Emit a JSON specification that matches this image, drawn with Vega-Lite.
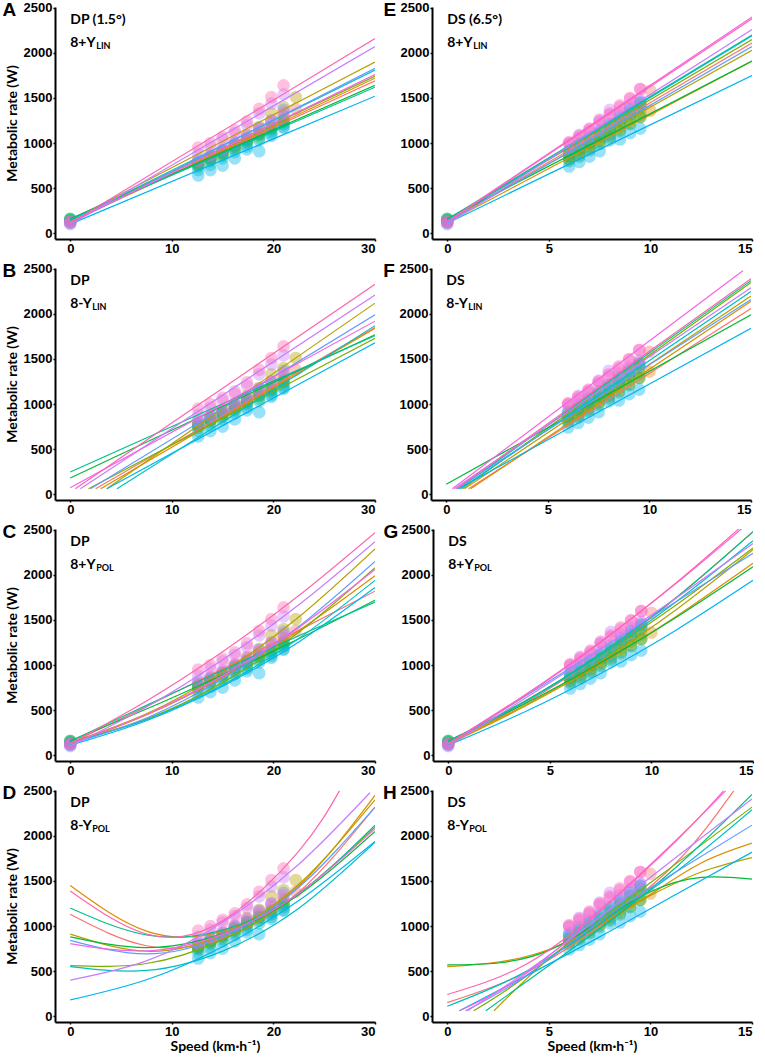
{
"$schema":"https://vega.github.io/schema/vega-lite/v6.json",
"background":"white",
"padding":{"left":2,"top":0,"right":0,"bottom":0},
"config":{"view":{"stroke":null},"axis":{"grid":false,"format":"d","labelFont":"Liberation Sans","labelFontSize":13,"labelFontWeight":"bold","labelColor":"black","domainColor":"black","domainWidth":2,"tickColor":"black","tickWidth":1.5,"tickSize":2,"labelPadding":1,"titleFont":"Lato","titleFontSize":14,"titleFontWeight":"bold","titleColor":"black","titlePadding":4},"axisX":{"labelPadding":1,"titlePadding":1}},
"datasets":{
"dp":[
{"s":"s1","x":0,"y":130},{"s":"s1","x":12.6,"y":760},{"s":"s1","x":13.8,"y":830},{"s":"s1","x":15,"y":900},{"s":"s1","x":16.2,"y":970},{"s":"s1","x":17.4,"y":1050},{"s":"s1","x":18.6,"y":1130},{"s":"s1","x":19.8,"y":1220},{"s":"s1","x":21,"y":1300},{"s":"s1","x":22.2,"y":1380},
{"s":"s2","x":0,"y":120},{"s":"s2","x":12.6,"y":760},{"s":"s2","x":13.8,"y":820},{"s":"s2","x":15,"y":880},{"s":"s2","x":16.2,"y":950},{"s":"s2","x":17.4,"y":1020},{"s":"s2","x":18.6,"y":1100},{"s":"s2","x":19.8,"y":1180},{"s":"s2","x":21,"y":1270},
{"s":"s3","x":0,"y":140},{"s":"s3","x":12.6,"y":780},{"s":"s3","x":13.8,"y":850},{"s":"s3","x":15,"y":920},{"s":"s3","x":16.2,"y":1000},{"s":"s3","x":17.4,"y":1090},{"s":"s3","x":18.6,"y":1180},{"s":"s3","x":19.8,"y":1330},{"s":"s3","x":21,"y":1400},{"s":"s3","x":22.2,"y":1510},
{"s":"s4","x":0,"y":150},{"s":"s4","x":12.6,"y":760},{"s":"s4","x":13.8,"y":820},{"s":"s4","x":15,"y":890},{"s":"s4","x":16.2,"y":960},{"s":"s4","x":17.4,"y":1030},{"s":"s4","x":18.6,"y":1090},{"s":"s4","x":19.8,"y":1160},{"s":"s4","x":21,"y":1240},
{"s":"s5","x":0,"y":160},{"s":"s5","x":12.6,"y":740},{"s":"s5","x":13.8,"y":800},{"s":"s5","x":15,"y":860},{"s":"s5","x":16.2,"y":930},{"s":"s5","x":17.4,"y":1000},{"s":"s5","x":18.6,"y":1060},{"s":"s5","x":19.8,"y":1130},{"s":"s5","x":21,"y":1210},
{"s":"s6","x":0,"y":155},{"s":"s6","x":12.6,"y":780},{"s":"s6","x":13.8,"y":840},{"s":"s6","x":15,"y":900},{"s":"s6","x":16.2,"y":980},{"s":"s6","x":17.4,"y":1040},{"s":"s6","x":18.6,"y":1100},{"s":"s6","x":19.8,"y":1160},{"s":"s6","x":21,"y":1250},
{"s":"s7","x":0,"y":140},{"s":"s7","x":12.6,"y":700},{"s":"s7","x":13.8,"y":760},{"s":"s7","x":15,"y":830},{"s":"s7","x":16.2,"y":900},{"s":"s7","x":17.4,"y":960},{"s":"s7","x":18.6,"y":1030},{"s":"s7","x":19.8,"y":1100},{"s":"s7","x":21,"y":1180},
{"s":"s8","x":0,"y":110},{"s":"s8","x":12.6,"y":640},{"s":"s8","x":13.8,"y":700},{"s":"s8","x":15,"y":750},{"s":"s8","x":16.2,"y":830},{"s":"s8","x":17.4,"y":930},{"s":"s8","x":18.6,"y":910},{"s":"s8","x":19.8,"y":1080},{"s":"s8","x":21,"y":1170},
{"s":"s9","x":0,"y":120},{"s":"s9","x":12.6,"y":820},{"s":"s9","x":13.8,"y":860},{"s":"s9","x":15,"y":920},{"s":"s9","x":16.2,"y":990},{"s":"s9","x":17.4,"y":1060},{"s":"s9","x":18.6,"y":1170},{"s":"s9","x":19.8,"y":1250},{"s":"s9","x":21,"y":1370},
{"s":"s10","x":0,"y":100},{"s":"s10","x":12.6,"y":880},{"s":"s10","x":13.8,"y":960},{"s":"s10","x":15,"y":1040},{"s":"s10","x":16.2,"y":1110},{"s":"s10","x":17.4,"y":1200},{"s":"s10","x":18.6,"y":1330},{"s":"s10","x":19.8,"y":1440},{"s":"s10","x":21,"y":1540},
{"s":"s11","x":0,"y":130},{"s":"s11","x":12.6,"y":800},{"s":"s11","x":13.8,"y":870},{"s":"s11","x":15,"y":940},{"s":"s11","x":16.2,"y":1010},{"s":"s11","x":17.4,"y":1080},{"s":"s11","x":18.6,"y":1160},{"s":"s11","x":19.8,"y":1250},{"s":"s11","x":21,"y":1340},
{"s":"s12","x":0,"y":125},{"s":"s12","x":12.6,"y":950},{"s":"s12","x":13.8,"y":1000},{"s":"s12","x":15,"y":1070},{"s":"s12","x":16.2,"y":1140},{"s":"s12","x":17.4,"y":1240},{"s":"s12","x":18.6,"y":1380},{"s":"s12","x":19.8,"y":1510},{"s":"s12","x":21,"y":1640}
],
"ds":[
{"s":"s1","x":0,"y":130},{"s":"s1","x":6,"y":860},{"s":"s1","x":6.5,"y":920},{"s":"s1","x":7,"y":990},{"s":"s1","x":7.5,"y":1070},{"s":"s1","x":8,"y":1150},{"s":"s1","x":8.5,"y":1240},{"s":"s1","x":9,"y":1330},{"s":"s1","x":9.5,"y":1440},{"s":"s1","x":10,"y":1580},
{"s":"s2","x":0,"y":120},{"s":"s2","x":6,"y":820},{"s":"s2","x":6.5,"y":870},{"s":"s2","x":7,"y":940},{"s":"s2","x":7.5,"y":1010},{"s":"s2","x":8,"y":1080},{"s":"s2","x":8.5,"y":1150},{"s":"s2","x":9,"y":1220},{"s":"s2","x":9.5,"y":1290},{"s":"s2","x":10,"y":1360},
{"s":"s3","x":0,"y":140},{"s":"s3","x":6,"y":830},{"s":"s3","x":6.5,"y":890},{"s":"s3","x":7,"y":960},{"s":"s3","x":7.5,"y":1030},{"s":"s3","x":8,"y":1100},{"s":"s3","x":8.5,"y":1180},{"s":"s3","x":9,"y":1260},{"s":"s3","x":9.5,"y":1340},
{"s":"s4","x":0,"y":150},{"s":"s4","x":6,"y":860},{"s":"s4","x":6.5,"y":930},{"s":"s4","x":7,"y":1000},{"s":"s4","x":7.5,"y":1080},{"s":"s4","x":8,"y":1160},{"s":"s4","x":8.5,"y":1240},{"s":"s4","x":9,"y":1320},{"s":"s4","x":9.5,"y":1400},
{"s":"s5","x":0,"y":160},{"s":"s5","x":6,"y":800},{"s":"s5","x":6.5,"y":850},{"s":"s5","x":7,"y":920},{"s":"s5","x":7.5,"y":990},{"s":"s5","x":8,"y":1060},{"s":"s5","x":8.5,"y":1130},{"s":"s5","x":9,"y":1210},{"s":"s5","x":9.5,"y":1290},
{"s":"s6","x":0,"y":155},{"s":"s6","x":6,"y":900},{"s":"s6","x":6.5,"y":960},{"s":"s6","x":7,"y":1040},{"s":"s6","x":7.5,"y":1120},{"s":"s6","x":8,"y":1200},{"s":"s6","x":8.5,"y":1280},{"s":"s6","x":9,"y":1370},{"s":"s6","x":9.5,"y":1450},
{"s":"s7","x":0,"y":140},{"s":"s7","x":6,"y":880},{"s":"s7","x":6.5,"y":950},{"s":"s7","x":7,"y":1020},{"s":"s7","x":7.5,"y":1100},{"s":"s7","x":8,"y":1180},{"s":"s7","x":8.5,"y":1260},{"s":"s7","x":9,"y":1340},{"s":"s7","x":9.5,"y":1420},
{"s":"s8","x":0,"y":110},{"s":"s8","x":6,"y":740},{"s":"s8","x":6.5,"y":790},{"s":"s8","x":7,"y":850},{"s":"s8","x":7.5,"y":910},{"s":"s8","x":8,"y":1030},{"s":"s8","x":8.5,"y":1040},{"s":"s8","x":9,"y":1110},{"s":"s8","x":9.5,"y":1160},
{"s":"s9","x":0,"y":120},{"s":"s9","x":6,"y":920},{"s":"s9","x":6.5,"y":990},{"s":"s9","x":7,"y":1060},{"s":"s9","x":7.5,"y":1140},{"s":"s9","x":8,"y":1220},{"s":"s9","x":8.5,"y":1300},{"s":"s9","x":9,"y":1380},{"s":"s9","x":9.5,"y":1460},
{"s":"s10","x":0,"y":100},{"s":"s10","x":6,"y":990},{"s":"s10","x":6.5,"y":1090},{"s":"s10","x":7,"y":1130},{"s":"s10","x":7.5,"y":1260},{"s":"s10","x":8,"y":1370},{"s":"s10","x":8.5,"y":1340},{"s":"s10","x":9,"y":1410},{"s":"s10","x":9.5,"y":1480},
{"s":"s11","x":0,"y":130},{"s":"s11","x":6,"y":1000},{"s":"s11","x":6.5,"y":1060},{"s":"s11","x":7,"y":1150},{"s":"s11","x":7.5,"y":1230},{"s":"s11","x":8,"y":1310},{"s":"s11","x":8.5,"y":1400},{"s":"s11","x":9,"y":1490},{"s":"s11","x":9.5,"y":1600},
{"s":"s12","x":0,"y":125},{"s":"s12","x":6,"y":1010},{"s":"s12","x":6.5,"y":1080},{"s":"s12","x":7,"y":1160},{"s":"s12","x":7.5,"y":1250},{"s":"s12","x":8,"y":1330},{"s":"s12","x":8.5,"y":1420},{"s":"s12","x":9,"y":1500},{"s":"s12","x":9.5,"y":1600}
],
"lines":[
{"p":"A","s":"s1","x":0,"y":130},{"p":"A","s":"s1","x":30,"y":1690},
{"p":"A","s":"s2","x":0,"y":120},{"p":"A","s":"s2","x":30,"y":1720},
{"p":"A","s":"s3","x":0,"y":140},{"p":"A","s":"s3","x":30,"y":1900},
{"p":"A","s":"s4","x":0,"y":150},{"p":"A","s":"s4","x":30,"y":1740},
{"p":"A","s":"s5","x":0,"y":160},{"p":"A","s":"s5","x":30,"y":1640},
{"p":"A","s":"s6","x":0,"y":155},{"p":"A","s":"s6","x":30,"y":1620},
{"p":"A","s":"s7","x":0,"y":140},{"p":"A","s":"s7","x":30,"y":1810},
{"p":"A","s":"s8","x":0,"y":100},{"p":"A","s":"s8","x":30,"y":1520},
{"p":"A","s":"s9","x":0,"y":110},{"p":"A","s":"s9","x":30,"y":1830},
{"p":"A","s":"s10","x":0,"y":95},{"p":"A","s":"s10","x":30,"y":2070},
{"p":"A","s":"s11","x":0,"y":120},{"p":"A","s":"s11","x":30,"y":1760},
{"p":"A","s":"s12","x":0,"y":110},{"p":"A","s":"s12","x":30,"y":2160},
{"p":"B","s":"s1","x":2.5,"y":60},{"p":"B","s":"s1","x":30,"y":1850},
{"p":"B","s":"s2","x":3.0,"y":60},{"p":"B","s":"s2","x":30,"y":1840},
{"p":"B","s":"s3","x":3.6,"y":60},{"p":"B","s":"s3","x":30,"y":2120},
{"p":"B","s":"s4","x":1.8,"y":60},{"p":"B","s":"s4","x":30,"y":1730},
{"p":"B","s":"s5","x":0,"y":180},{"p":"B","s":"s5","x":30,"y":1770},
{"p":"B","s":"s6","x":0,"y":245},{"p":"B","s":"s6","x":30,"y":1760},
{"p":"B","s":"s7","x":4.6,"y":60},{"p":"B","s":"s7","x":30,"y":1870},
{"p":"B","s":"s8","x":3.6,"y":60},{"p":"B","s":"s8","x":30,"y":1680},
{"p":"B","s":"s9","x":2.0,"y":60},{"p":"B","s":"s9","x":30,"y":1990},
{"p":"B","s":"s10","x":1.0,"y":60},{"p":"B","s":"s10","x":30,"y":2210},
{"p":"B","s":"s11","x":0,"y":70},{"p":"B","s":"s11","x":30,"y":1920},
{"p":"B","s":"s12","x":0.5,"y":60},{"p":"B","s":"s12","x":30,"y":2330},
{"p":"C","s":"s1","x":0,"y":130},{"p":"C","s":"s1","x":7.5,"y":541},{"p":"C","s":"s1","x":15,"y":959},{"p":"C","s":"s1","x":22.5,"y":1385},{"p":"C","s":"s1","x":30,"y":1820},
{"p":"C","s":"s2","x":0,"y":120},{"p":"C","s":"s2","x":7.5,"y":445},{"p":"C","s":"s2","x":15,"y":865},{"p":"C","s":"s2","x":22.5,"y":1381},{"p":"C","s":"s2","x":30,"y":1990},
{"p":"C","s":"s3","x":0,"y":140},{"p":"C","s":"s3","x":7.5,"y":459},{"p":"C","s":"s3","x":15,"y":924},{"p":"C","s":"s3","x":22.5,"y":1534},{"p":"C","s":"s3","x":30,"y":2290},
{"p":"C","s":"s4","x":0,"y":150},{"p":"C","s":"s4","x":7.5,"y":400},{"p":"C","s":"s4","x":15,"y":805},{"p":"C","s":"s4","x":22.5,"y":1364},{"p":"C","s":"s4","x":30,"y":2080},
{"p":"C","s":"s5","x":0,"y":160},{"p":"C","s":"s5","x":7.5,"y":512},{"p":"C","s":"s5","x":15,"y":890},{"p":"C","s":"s5","x":22.5,"y":1291},{"p":"C","s":"s5","x":30,"y":1720},
{"p":"C","s":"s6","x":0,"y":155},{"p":"C","s":"s6","x":7.5,"y":553},{"p":"C","s":"s6","x":15,"y":943},{"p":"C","s":"s6","x":22.5,"y":1326},{"p":"C","s":"s6","x":30,"y":1700},
{"p":"C","s":"s7","x":0,"y":140},{"p":"C","s":"s7","x":7.5,"y":393},{"p":"C","s":"s7","x":15,"y":778},{"p":"C","s":"s7","x":22.5,"y":1294},{"p":"C","s":"s7","x":30,"y":1940},
{"p":"C","s":"s8","x":0,"y":110},{"p":"C","s":"s8","x":7.5,"y":382},{"p":"C","s":"s8","x":15,"y":765},{"p":"C","s":"s8","x":22.5,"y":1257},{"p":"C","s":"s8","x":30,"y":1860},
{"p":"C","s":"s9","x":0,"y":120},{"p":"C","s":"s9","x":7.5,"y":412},{"p":"C","s":"s9","x":15,"y":848},{"p":"C","s":"s9","x":22.5,"y":1427},{"p":"C","s":"s9","x":30,"y":2150},
{"p":"C","s":"s10","x":0,"y":100},{"p":"C","s":"s10","x":7.5,"y":534},{"p":"C","s":"s10","x":15,"y":1058},{"p":"C","s":"s10","x":22.5,"y":1669},{"p":"C","s":"s10","x":30,"y":2370},
{"p":"C","s":"s11","x":0,"y":130},{"p":"C","s":"s11","x":7.5,"y":451},{"p":"C","s":"s11","x":15,"y":880},{"p":"C","s":"s11","x":22.5,"y":1417},{"p":"C","s":"s11","x":30,"y":2060},
{"p":"C","s":"s12","x":0,"y":130},{"p":"C","s":"s12","x":7.5,"y":601},{"p":"C","s":"s12","x":15,"y":1148},{"p":"C","s":"s12","x":22.5,"y":1771},{"p":"C","s":"s12","x":30,"y":2470},
{"p":"D","s":"s1","x":0,"y":1130},{"p":"D","s":"s1","x":7.5,"y":781},{"p":"D","s":"s1","x":15,"y":862},{"p":"D","s":"s1","x":22.5,"y":1375},{"p":"D","s":"s1","x":30,"y":2320},
{"p":"D","s":"s2","x":0,"y":1450},{"p":"D","s":"s2","x":7.5,"y":944},{"p":"D","s":"s2","x":15,"y":942},{"p":"D","s":"s2","x":22.5,"y":1444},{"p":"D","s":"s2","x":30,"y":2450},
{"p":"D","s":"s3","x":0,"y":910},{"p":"D","s":"s3","x":7.5,"y":720},{"p":"D","s":"s3","x":15,"y":905},{"p":"D","s":"s3","x":22.5,"y":1464},{"p":"D","s":"s3","x":30,"y":2400},
{"p":"D","s":"s4","x":0,"y":560},{"p":"D","s":"s4","x":7.5,"y":584},{"p":"D","s":"s4","x":15,"y":849},{"p":"D","s":"s4","x":22.5,"y":1355},{"p":"D","s":"s4","x":30,"y":2100},
{"p":"D","s":"s5","x":0,"y":880},{"p":"D","s":"s5","x":7.5,"y":761},{"p":"D","s":"s5","x":15,"y":916},{"p":"D","s":"s5","x":22.5,"y":1346},{"p":"D","s":"s5","x":30,"y":2050},
{"p":"D","s":"s6","x":0,"y":1200},{"p":"D","s":"s6","x":7.5,"y":901},{"p":"D","s":"s6","x":15,"y":955},{"p":"D","s":"s6","x":22.5,"y":1363},{"p":"D","s":"s6","x":30,"y":2120},
{"p":"D","s":"s7","x":0,"y":550},{"p":"D","s":"s7","x":7.5,"y":507},{"p":"D","s":"s7","x":15,"y":722},{"p":"D","s":"s7","x":22.5,"y":1197},{"p":"D","s":"s7","x":30,"y":1930},
{"p":"D","s":"s8","x":0,"y":180},{"p":"D","s":"s8","x":7.5,"y":404},{"p":"D","s":"s8","x":15,"y":771},{"p":"D","s":"s8","x":22.5,"y":1283},{"p":"D","s":"s8","x":30,"y":1940},
{"p":"D","s":"s9","x":0,"y":841},{"p":"D","s":"s9","x":7.5,"y":691},{"p":"D","s":"s9","x":15,"y":887},{"p":"D","s":"s9","x":22.5,"y":1430},{"p":"D","s":"s9","x":30,"y":2320},
{"p":"D","s":"s10","x":0,"y":400},{"p":"D","s":"s10","x":7.5,"y":613},{"p":"D","s":"s10","x":15,"y":1042},{"p":"D","s":"s10","x":22.5,"y":1686},{"p":"D","s":"s10","x":29.5,"y":2480},
{"p":"D","s":"s11","x":0,"y":805},{"p":"D","s":"s11","x":7.5,"y":725},{"p":"D","s":"s11","x":15,"y":911},{"p":"D","s":"s11","x":22.5,"y":1362},{"p":"D","s":"s11","x":30,"y":2080},
{"p":"D","s":"s12","x":0,"y":1390},{"p":"D","s":"s12","x":7.5,"y":912},{"p":"D","s":"s12","x":15,"y":1059},{"p":"D","s":"s12","x":22.5,"y":1832},{"p":"D","s":"s12","x":26.5,"y":2500},
{"p":"E","s":"s1","x":0,"y":130},{"p":"E","s":"s1","x":15,"y":2110},
{"p":"E","s":"s2","x":0,"y":120},{"p":"E","s":"s2","x":15,"y":1910},
{"p":"E","s":"s3","x":0,"y":140},{"p":"E","s":"s3","x":15,"y":2030},
{"p":"E","s":"s4","x":0,"y":150},{"p":"E","s":"s4","x":15,"y":2150},
{"p":"E","s":"s5","x":0,"y":160},{"p":"E","s":"s5","x":15,"y":1910},
{"p":"E","s":"s6","x":0,"y":155},{"p":"E","s":"s6","x":15,"y":2200},
{"p":"E","s":"s7","x":0,"y":140},{"p":"E","s":"s7","x":15,"y":2190},
{"p":"E","s":"s8","x":0,"y":110},{"p":"E","s":"s8","x":15,"y":1750},
{"p":"E","s":"s9","x":0,"y":120},{"p":"E","s":"s9","x":15,"y":2070},
{"p":"E","s":"s10","x":0,"y":100},{"p":"E","s":"s10","x":15,"y":2260},
{"p":"E","s":"s11","x":0,"y":130},{"p":"E","s":"s11","x":15,"y":2400},
{"p":"E","s":"s12","x":0,"y":125},{"p":"E","s":"s12","x":15,"y":2380},
{"p":"F","s":"s1","x":1.1,"y":60},{"p":"F","s":"s1","x":15,"y":2060},
{"p":"F","s":"s2","x":1.2,"y":60},{"p":"F","s":"s2","x":15,"y":2140},
{"p":"F","s":"s3","x":0.9,"y":60},{"p":"F","s":"s3","x":15,"y":2200},
{"p":"F","s":"s4","x":0.8,"y":60},{"p":"F","s":"s4","x":15,"y":2350},
{"p":"F","s":"s5","x":0,"y":110},{"p":"F","s":"s5","x":15,"y":1990},
{"p":"F","s":"s6","x":0.6,"y":60},{"p":"F","s":"s6","x":15,"y":2370},
{"p":"F","s":"s7","x":0.7,"y":60},{"p":"F","s":"s7","x":15,"y":2250},
{"p":"F","s":"s8","x":0.6,"y":60},{"p":"F","s":"s8","x":15,"y":1840},
{"p":"F","s":"s9","x":0.5,"y":60},{"p":"F","s":"s9","x":15,"y":2160},
{"p":"F","s":"s10","x":0.4,"y":60},{"p":"F","s":"s10","x":15,"y":2290},
{"p":"F","s":"s11","x":0.3,"y":60},{"p":"F","s":"s11","x":14.6,"y":2480},
{"p":"F","s":"s12","x":0.5,"y":60},{"p":"F","s":"s12","x":15,"y":2390},
{"p":"G","s":"s1","x":0,"y":130},{"p":"G","s":"s1","x":3.75,"y":573},{"p":"G","s":"s1","x":7.5,"y":1112},{"p":"G","s":"s1","x":11.25,"y":1749},{"p":"G","s":"s1","x":15,"y":2480},
{"p":"G","s":"s2","x":0,"y":120},{"p":"G","s":"s2","x":3.75,"y":539},{"p":"G","s":"s2","x":7.5,"y":1014},{"p":"G","s":"s2","x":11.25,"y":1545},{"p":"G","s":"s2","x":15,"y":2130},
{"p":"G","s":"s3","x":0,"y":140},{"p":"G","s":"s3","x":3.75,"y":550},{"p":"G","s":"s3","x":7.5,"y":1043},{"p":"G","s":"s3","x":11.25,"y":1620},{"p":"G","s":"s3","x":15,"y":2280},
{"p":"G","s":"s4","x":0,"y":150},{"p":"G","s":"s4","x":3.75,"y":598},{"p":"G","s":"s4","x":7.5,"y":1105},{"p":"G","s":"s4","x":11.25,"y":1673},{"p":"G","s":"s4","x":15,"y":2300},
{"p":"G","s":"s5","x":0,"y":160},{"p":"G","s":"s5","x":3.75,"y":568},{"p":"G","s":"s5","x":7.5,"y":1026},{"p":"G","s":"s5","x":11.25,"y":1533},{"p":"G","s":"s5","x":15,"y":2090},
{"p":"G","s":"s6","x":0,"y":155},{"p":"G","s":"s6","x":3.75,"y":593},{"p":"G","s":"s6","x":7.5,"y":1127},{"p":"G","s":"s6","x":11.25,"y":1755},{"p":"G","s":"s6","x":15,"y":2480},
{"p":"G","s":"s7","x":0,"y":140},{"p":"G","s":"s7","x":3.75,"y":588},{"p":"G","s":"s7","x":7.5,"y":1111},{"p":"G","s":"s7","x":11.25,"y":1709},{"p":"G","s":"s7","x":15,"y":2380},
{"p":"G","s":"s8","x":0,"y":110},{"p":"G","s":"s8","x":3.75,"y":479},{"p":"G","s":"s8","x":7.5,"y":907},{"p":"G","s":"s8","x":11.25,"y":1393},{"p":"G","s":"s8","x":15,"y":1940},
{"p":"G","s":"s9","x":0,"y":120},{"p":"G","s":"s9","x":3.75,"y":648},{"p":"G","s":"s9","x":7.5,"y":1178},{"p":"G","s":"s9","x":11.25,"y":1708},{"p":"G","s":"s9","x":15,"y":2240},
{"p":"G","s":"s10","x":0,"y":100},{"p":"G","s":"s10","x":3.75,"y":626},{"p":"G","s":"s10","x":7.5,"y":1176},{"p":"G","s":"s10","x":11.25,"y":1750},{"p":"G","s":"s10","x":15,"y":2350},
{"p":"G","s":"s11","x":0,"y":130},{"p":"G","s":"s11","x":3.75,"y":666},{"p":"G","s":"s11","x":7.5,"y":1260},{"p":"G","s":"s11","x":11.25,"y":1912},{"p":"G","s":"s11","x":15,"y":2620},
{"p":"G","s":"s12","x":0,"y":125},{"p":"G","s":"s12","x":3.75,"y":656},{"p":"G","s":"s12","x":7.5,"y":1254},{"p":"G","s":"s12","x":11.25,"y":1919},{"p":"G","s":"s12","x":15,"y":2650},
{"p":"H","s":"s1","x":0,"y":150},{"p":"H","s":"s1","x":3.75,"y":470},{"p":"H","s":"s1","x":7.5,"y":1000},{"p":"H","s":"s1","x":11.25,"y":1700},{"p":"H","s":"s1","x":14.1,"y":2500},
{"p":"H","s":"s2","x":0,"y":550},{"p":"H","s":"s2","x":2.5,"y":600},{"p":"H","s":"s2","x":5,"y":740},{"p":"H","s":"s2","x":7.5,"y":1010},{"p":"H","s":"s2","x":10,"y":1350},{"p":"H","s":"s2","x":12.5,"y":1700},{"p":"H","s":"s2","x":15,"y":1920},
{"p":"H","s":"s3","x":2.3,"y":60},{"p":"H","s":"s3","x":5,"y":640},{"p":"H","s":"s3","x":7.5,"y":1040},{"p":"H","s":"s3","x":10,"y":1340},{"p":"H","s":"s3","x":12.5,"y":1600},{"p":"H","s":"s3","x":15,"y":1760},
{"p":"H","s":"s4","x":1.3,"y":60},{"p":"H","s":"s4","x":3.75,"y":420},{"p":"H","s":"s4","x":7.5,"y":1060},{"p":"H","s":"s4","x":11.25,"y":1690},{"p":"H","s":"s4","x":15,"y":2320},
{"p":"H","s":"s5","x":0,"y":570},{"p":"H","s":"s5","x":2.5,"y":590},{"p":"H","s":"s5","x":5,"y":730},{"p":"H","s":"s5","x":7.5,"y":1050},{"p":"H","s":"s5","x":10,"y":1380},{"p":"H","s":"s5","x":12.5,"y":1540},{"p":"H","s":"s5","x":15,"y":1520},
{"p":"H","s":"s6","x":1.9,"y":60},{"p":"H","s":"s6","x":3.75,"y":360},{"p":"H","s":"s6","x":7.5,"y":970},{"p":"H","s":"s6","x":11.25,"y":1650},{"p":"H","s":"s6","x":15,"y":2460},
{"p":"H","s":"s7","x":0,"y":110},{"p":"H","s":"s7","x":3.75,"y":480},{"p":"H","s":"s7","x":7.5,"y":1020},{"p":"H","s":"s7","x":11.25,"y":1600},{"p":"H","s":"s7","x":15,"y":2290},
{"p":"H","s":"s8","x":0.6,"y":60},{"p":"H","s":"s8","x":3.75,"y":430},{"p":"H","s":"s8","x":7.5,"y":880},{"p":"H","s":"s8","x":11.25,"y":1350},{"p":"H","s":"s8","x":15,"y":1820},
{"p":"H","s":"s9","x":0.9,"y":60},{"p":"H","s":"s9","x":3.75,"y":430},{"p":"H","s":"s9","x":7.5,"y":1050},{"p":"H","s":"s9","x":11.25,"y":1600},{"p":"H","s":"s9","x":15,"y":2120},
{"p":"H","s":"s10","x":1.0,"y":60},{"p":"H","s":"s10","x":3.75,"y":470},{"p":"H","s":"s10","x":7.5,"y":1100},{"p":"H","s":"s10","x":11.25,"y":1760},{"p":"H","s":"s10","x":15,"y":2410},
{"p":"H","s":"s11","x":0.6,"y":60},{"p":"H","s":"s11","x":3.75,"y":450},{"p":"H","s":"s11","x":7.5,"y":1160},{"p":"H","s":"s11","x":11.25,"y":1950},{"p":"H","s":"s11","x":13.7,"y":2500},
{"p":"H","s":"s12","x":0,"y":240},{"p":"H","s":"s12","x":3.75,"y":560},{"p":"H","s":"s12","x":7.5,"y":1170},{"p":"H","s":"s12","x":11.25,"y":1940},{"p":"H","s":"s12","x":13.6,"y":2500}
]
},
"spacing":6,
"vconcat":[
{"spacing":7,"hconcat":[
{"width":320,"height":232,
"encoding":{"x":{"field":"x","type":"quantitative","scale":{"domain":[-1.5,30],"nice":false,"zero":false},"axis":{"values":[0,10,20,30],"title":null}},"y":{"field":"y","type":"quantitative","scale":{"domain":[-65,2510],"nice":false,"zero":false},"axis":{"values":[0,500,1000,1500,2000,2500],"title":"Metabolic rate (W)"}}},
"layer":[
{"data":{"name":"dp"},"mark":{"type":"circle","size":160,"opacity":0.4,"clip":true},"encoding":{"color":{"field":"s","type":"nominal","scale":{"domain":["s1","s2","s3","s4","s5","s6","s7","s8","s9","s10","s11","s12"],"range":["#F8766D","#DE8C00","#B79F00","#7CAE00","#00BA38","#00C08B","#00BFC4","#00B4F0","#619CFF","#C77CFF","#F564E3","#FF64B0"]},"legend":null}}},
{"data":{"name":"lines"},"transform":[{"filter":"datum.p==='A'"}],"mark":{"type":"line","strokeWidth":1.2,"clip":true},"encoding":{"color":{"field":"s","type":"nominal","scale":{"domain":["s1","s2","s3","s4","s5","s6","s7","s8","s9","s10","s11","s12"],"range":["#F8766D","#DE8C00","#B79F00","#7CAE00","#00BA38","#00C08B","#00BFC4","#00B4F0","#619CFF","#C77CFF","#F564E3","#FF64B0"]},"legend":null}}},
{"data":{"values":[{"x":0,"y":2370,"t":"DP (1.5°)"},{"x":0,"y":2110,"t":"8+Y"}]},"mark":{"type":"text","align":"left","baseline":"middle","font":"Lato","fontSize":14,"fontWeight":"bold","color":"black"},"encoding":{"text":{"field":"t"}}},
{"data":{"values":[{"x":0,"y":2075,"t":"LIN"}]},"mark":{"type":"text","align":"left","baseline":"middle","font":"Lato","fontSize":9,"fontWeight":"bold","color":"black","dx":26},"encoding":{"text":{"field":"t"}}},
{"data":{"values":[{"x":-6,"y":2480,"t":"A"}]},"mark":{"type":"text","align":"center","baseline":"middle","font":"Liberation Sans","fontSize":19,"fontWeight":"bold","color":"black"},"encoding":{"text":{"field":"t"}}}
]},
{"width":320,"height":232,
"encoding":{"x":{"field":"x","type":"quantitative","scale":{"domain":[-0.75,15],"nice":false,"zero":false},"axis":{"values":[0,5,10,15],"title":null}},"y":{"field":"y","type":"quantitative","scale":{"domain":[-65,2510],"nice":false,"zero":false},"axis":{"values":[0,500,1000,1500,2000,2500],"title":null}}},
"layer":[
{"data":{"name":"ds"},"mark":{"type":"circle","size":160,"opacity":0.4,"clip":true},"encoding":{"color":{"field":"s","type":"nominal","scale":{"domain":["s1","s2","s3","s4","s5","s6","s7","s8","s9","s10","s11","s12"],"range":["#F8766D","#DE8C00","#B79F00","#7CAE00","#00BA38","#00C08B","#00BFC4","#00B4F0","#619CFF","#C77CFF","#F564E3","#FF64B0"]},"legend":null}}},
{"data":{"name":"lines"},"transform":[{"filter":"datum.p==='E'"}],"mark":{"type":"line","strokeWidth":1.2,"clip":true},"encoding":{"color":{"field":"s","type":"nominal","scale":{"domain":["s1","s2","s3","s4","s5","s6","s7","s8","s9","s10","s11","s12"],"range":["#F8766D","#DE8C00","#B79F00","#7CAE00","#00BA38","#00C08B","#00BFC4","#00B4F0","#619CFF","#C77CFF","#F564E3","#FF64B0"]},"legend":null}}},
{"data":{"values":[{"x":0,"y":2370,"t":"DS (6.5°)"},{"x":0,"y":2110,"t":"8+Y"}]},"mark":{"type":"text","align":"left","baseline":"middle","font":"Lato","fontSize":14,"fontWeight":"bold","color":"black"},"encoding":{"text":{"field":"t"}}},
{"data":{"values":[{"x":0,"y":2075,"t":"LIN"}]},"mark":{"type":"text","align":"left","baseline":"middle","font":"Lato","fontSize":9,"fontWeight":"bold","color":"black","dx":26},"encoding":{"text":{"field":"t"}}},
{"data":{"values":[{"x":-2.82,"y":2480,"t":"E"}]},"mark":{"type":"text","align":"center","baseline":"middle","font":"Liberation Sans","fontSize":19,"fontWeight":"bold","color":"black"},"encoding":{"text":{"field":"t"}}}
]}
]},
{"spacing":7,"hconcat":[
{"width":320,"height":232,
"encoding":{"x":{"field":"x","type":"quantitative","scale":{"domain":[-1.5,30],"nice":false,"zero":false},"axis":{"values":[0,10,20,30],"title":null}},"y":{"field":"y","type":"quantitative","scale":{"domain":[-65,2510],"nice":false,"zero":false},"axis":{"values":[0,500,1000,1500,2000,2500],"title":"Metabolic rate (W)"}}},
"layer":[
{"data":{"name":"dp"},"transform":[{"filter":"datum.x>0"}],"mark":{"type":"circle","size":160,"opacity":0.4,"clip":true},"encoding":{"color":{"field":"s","type":"nominal","scale":{"domain":["s1","s2","s3","s4","s5","s6","s7","s8","s9","s10","s11","s12"],"range":["#F8766D","#DE8C00","#B79F00","#7CAE00","#00BA38","#00C08B","#00BFC4","#00B4F0","#619CFF","#C77CFF","#F564E3","#FF64B0"]},"legend":null}}},
{"data":{"name":"lines"},"transform":[{"filter":"datum.p==='B'"}],"mark":{"type":"line","strokeWidth":1.2,"clip":true},"encoding":{"color":{"field":"s","type":"nominal","scale":{"domain":["s1","s2","s3","s4","s5","s6","s7","s8","s9","s10","s11","s12"],"range":["#F8766D","#DE8C00","#B79F00","#7CAE00","#00BA38","#00C08B","#00BFC4","#00B4F0","#619CFF","#C77CFF","#F564E3","#FF64B0"]},"legend":null}}},
{"data":{"values":[{"x":0,"y":2370,"t":"DP"},{"x":0,"y":2110,"t":"8-Y"}]},"mark":{"type":"text","align":"left","baseline":"middle","font":"Lato","fontSize":14,"fontWeight":"bold","color":"black"},"encoding":{"text":{"field":"t"}}},
{"data":{"values":[{"x":0,"y":2075,"t":"LIN"}]},"mark":{"type":"text","align":"left","baseline":"middle","font":"Lato","fontSize":9,"fontWeight":"bold","color":"black","dx":22},"encoding":{"text":{"field":"t"}}},
{"data":{"values":[{"x":-6,"y":2480,"t":"B"}]},"mark":{"type":"text","align":"center","baseline":"middle","font":"Liberation Sans","fontSize":19,"fontWeight":"bold","color":"black"},"encoding":{"text":{"field":"t"}}}
]},
{"width":320,"height":232,
"encoding":{"x":{"field":"x","type":"quantitative","scale":{"domain":[-0.75,15],"nice":false,"zero":false},"axis":{"values":[0,5,10,15],"title":null}},"y":{"field":"y","type":"quantitative","scale":{"domain":[-65,2510],"nice":false,"zero":false},"axis":{"values":[0,500,1000,1500,2000,2500],"title":null}}},
"layer":[
{"data":{"name":"ds"},"transform":[{"filter":"datum.x>0"}],"mark":{"type":"circle","size":160,"opacity":0.4,"clip":true},"encoding":{"color":{"field":"s","type":"nominal","scale":{"domain":["s1","s2","s3","s4","s5","s6","s7","s8","s9","s10","s11","s12"],"range":["#F8766D","#DE8C00","#B79F00","#7CAE00","#00BA38","#00C08B","#00BFC4","#00B4F0","#619CFF","#C77CFF","#F564E3","#FF64B0"]},"legend":null}}},
{"data":{"name":"lines"},"transform":[{"filter":"datum.p==='F'"}],"mark":{"type":"line","strokeWidth":1.2,"clip":true},"encoding":{"color":{"field":"s","type":"nominal","scale":{"domain":["s1","s2","s3","s4","s5","s6","s7","s8","s9","s10","s11","s12"],"range":["#F8766D","#DE8C00","#B79F00","#7CAE00","#00BA38","#00C08B","#00BFC4","#00B4F0","#619CFF","#C77CFF","#F564E3","#FF64B0"]},"legend":null}}},
{"data":{"values":[{"x":0,"y":2370,"t":"DS"},{"x":0,"y":2110,"t":"8-Y"}]},"mark":{"type":"text","align":"left","baseline":"middle","font":"Lato","fontSize":14,"fontWeight":"bold","color":"black"},"encoding":{"text":{"field":"t"}}},
{"data":{"values":[{"x":0,"y":2075,"t":"LIN"}]},"mark":{"type":"text","align":"left","baseline":"middle","font":"Lato","fontSize":9,"fontWeight":"bold","color":"black","dx":22},"encoding":{"text":{"field":"t"}}},
{"data":{"values":[{"x":-2.82,"y":2480,"t":"F"}]},"mark":{"type":"text","align":"center","baseline":"middle","font":"Liberation Sans","fontSize":19,"fontWeight":"bold","color":"black"},"encoding":{"text":{"field":"t"}}}
]}
]},
{"spacing":7,"hconcat":[
{"width":320,"height":232,
"encoding":{"x":{"field":"x","type":"quantitative","scale":{"domain":[-1.5,30],"nice":false,"zero":false},"axis":{"values":[0,10,20,30],"title":null}},"y":{"field":"y","type":"quantitative","scale":{"domain":[-65,2510],"nice":false,"zero":false},"axis":{"values":[0,500,1000,1500,2000,2500],"title":"Metabolic rate (W)"}}},
"layer":[
{"data":{"name":"dp"},"mark":{"type":"circle","size":160,"opacity":0.4,"clip":true},"encoding":{"color":{"field":"s","type":"nominal","scale":{"domain":["s1","s2","s3","s4","s5","s6","s7","s8","s9","s10","s11","s12"],"range":["#F8766D","#DE8C00","#B79F00","#7CAE00","#00BA38","#00C08B","#00BFC4","#00B4F0","#619CFF","#C77CFF","#F564E3","#FF64B0"]},"legend":null}}},
{"data":{"name":"lines"},"transform":[{"filter":"datum.p==='C'"}],"mark":{"type":"line","strokeWidth":1.2,"clip":true,"interpolate":"natural"},"encoding":{"color":{"field":"s","type":"nominal","scale":{"domain":["s1","s2","s3","s4","s5","s6","s7","s8","s9","s10","s11","s12"],"range":["#F8766D","#DE8C00","#B79F00","#7CAE00","#00BA38","#00C08B","#00BFC4","#00B4F0","#619CFF","#C77CFF","#F564E3","#FF64B0"]},"legend":null}}},
{"data":{"values":[{"x":0,"y":2370,"t":"DP"},{"x":0,"y":2110,"t":"8+Y"}]},"mark":{"type":"text","align":"left","baseline":"middle","font":"Lato","fontSize":14,"fontWeight":"bold","color":"black"},"encoding":{"text":{"field":"t"}}},
{"data":{"values":[{"x":0,"y":2075,"t":"POL"}]},"mark":{"type":"text","align":"left","baseline":"middle","font":"Lato","fontSize":9,"fontWeight":"bold","color":"black","dx":26},"encoding":{"text":{"field":"t"}}},
{"data":{"values":[{"x":-6,"y":2480,"t":"C"}]},"mark":{"type":"text","align":"center","baseline":"middle","font":"Liberation Sans","fontSize":19,"fontWeight":"bold","color":"black"},"encoding":{"text":{"field":"t"}}}
]},
{"width":320,"height":232,
"encoding":{"x":{"field":"x","type":"quantitative","scale":{"domain":[-0.75,15],"nice":false,"zero":false},"axis":{"values":[0,5,10,15],"title":null}},"y":{"field":"y","type":"quantitative","scale":{"domain":[-65,2510],"nice":false,"zero":false},"axis":{"values":[0,500,1000,1500,2000,2500],"title":null}}},
"layer":[
{"data":{"name":"ds"},"mark":{"type":"circle","size":160,"opacity":0.4,"clip":true},"encoding":{"color":{"field":"s","type":"nominal","scale":{"domain":["s1","s2","s3","s4","s5","s6","s7","s8","s9","s10","s11","s12"],"range":["#F8766D","#DE8C00","#B79F00","#7CAE00","#00BA38","#00C08B","#00BFC4","#00B4F0","#619CFF","#C77CFF","#F564E3","#FF64B0"]},"legend":null}}},
{"data":{"name":"lines"},"transform":[{"filter":"datum.p==='G'"}],"mark":{"type":"line","strokeWidth":1.2,"clip":true,"interpolate":"natural"},"encoding":{"color":{"field":"s","type":"nominal","scale":{"domain":["s1","s2","s3","s4","s5","s6","s7","s8","s9","s10","s11","s12"],"range":["#F8766D","#DE8C00","#B79F00","#7CAE00","#00BA38","#00C08B","#00BFC4","#00B4F0","#619CFF","#C77CFF","#F564E3","#FF64B0"]},"legend":null}}},
{"data":{"values":[{"x":0,"y":2370,"t":"DS"},{"x":0,"y":2110,"t":"8+Y"}]},"mark":{"type":"text","align":"left","baseline":"middle","font":"Lato","fontSize":14,"fontWeight":"bold","color":"black"},"encoding":{"text":{"field":"t"}}},
{"data":{"values":[{"x":0,"y":2075,"t":"POL"}]},"mark":{"type":"text","align":"left","baseline":"middle","font":"Lato","fontSize":9,"fontWeight":"bold","color":"black","dx":26},"encoding":{"text":{"field":"t"}}},
{"data":{"values":[{"x":-2.82,"y":2480,"t":"G"}]},"mark":{"type":"text","align":"center","baseline":"middle","font":"Liberation Sans","fontSize":19,"fontWeight":"bold","color":"black"},"encoding":{"text":{"field":"t"}}}
]}
]},
{"spacing":7,"hconcat":[
{"width":320,"height":232,
"encoding":{"x":{"field":"x","type":"quantitative","scale":{"domain":[-1.5,30],"nice":false,"zero":false},"axis":{"values":[0,10,20,30],"title":"Speed (km·h⁻¹)"}},"y":{"field":"y","type":"quantitative","scale":{"domain":[-65,2510],"nice":false,"zero":false},"axis":{"values":[0,500,1000,1500,2000,2500],"title":"Metabolic rate (W)"}}},
"layer":[
{"data":{"name":"dp"},"transform":[{"filter":"datum.x>0"}],"mark":{"type":"circle","size":160,"opacity":0.4,"clip":true},"encoding":{"color":{"field":"s","type":"nominal","scale":{"domain":["s1","s2","s3","s4","s5","s6","s7","s8","s9","s10","s11","s12"],"range":["#F8766D","#DE8C00","#B79F00","#7CAE00","#00BA38","#00C08B","#00BFC4","#00B4F0","#619CFF","#C77CFF","#F564E3","#FF64B0"]},"legend":null}}},
{"data":{"name":"lines"},"transform":[{"filter":"datum.p==='D'"}],"mark":{"type":"line","strokeWidth":1.2,"clip":true,"interpolate":"natural"},"encoding":{"color":{"field":"s","type":"nominal","scale":{"domain":["s1","s2","s3","s4","s5","s6","s7","s8","s9","s10","s11","s12"],"range":["#F8766D","#DE8C00","#B79F00","#7CAE00","#00BA38","#00C08B","#00BFC4","#00B4F0","#619CFF","#C77CFF","#F564E3","#FF64B0"]},"legend":null}}},
{"data":{"values":[{"x":0,"y":2370,"t":"DP"},{"x":0,"y":2110,"t":"8-Y"}]},"mark":{"type":"text","align":"left","baseline":"middle","font":"Lato","fontSize":14,"fontWeight":"bold","color":"black"},"encoding":{"text":{"field":"t"}}},
{"data":{"values":[{"x":0,"y":2075,"t":"POL"}]},"mark":{"type":"text","align":"left","baseline":"middle","font":"Lato","fontSize":9,"fontWeight":"bold","color":"black","dx":22},"encoding":{"text":{"field":"t"}}},
{"data":{"values":[{"x":-6,"y":2480,"t":"D"}]},"mark":{"type":"text","align":"center","baseline":"middle","font":"Liberation Sans","fontSize":19,"fontWeight":"bold","color":"black"},"encoding":{"text":{"field":"t"}}}
]},
{"width":320,"height":232,
"encoding":{"x":{"field":"x","type":"quantitative","scale":{"domain":[-0.75,15],"nice":false,"zero":false},"axis":{"values":[0,5,10,15],"title":"Speed (km·h⁻¹)"}},"y":{"field":"y","type":"quantitative","scale":{"domain":[-65,2510],"nice":false,"zero":false},"axis":{"values":[0,500,1000,1500,2000,2500],"title":null}}},
"layer":[
{"data":{"name":"ds"},"transform":[{"filter":"datum.x>0"}],"mark":{"type":"circle","size":160,"opacity":0.4,"clip":true},"encoding":{"color":{"field":"s","type":"nominal","scale":{"domain":["s1","s2","s3","s4","s5","s6","s7","s8","s9","s10","s11","s12"],"range":["#F8766D","#DE8C00","#B79F00","#7CAE00","#00BA38","#00C08B","#00BFC4","#00B4F0","#619CFF","#C77CFF","#F564E3","#FF64B0"]},"legend":null}}},
{"data":{"name":"lines"},"transform":[{"filter":"datum.p==='H'"}],"mark":{"type":"line","strokeWidth":1.2,"clip":true,"interpolate":"natural"},"encoding":{"color":{"field":"s","type":"nominal","scale":{"domain":["s1","s2","s3","s4","s5","s6","s7","s8","s9","s10","s11","s12"],"range":["#F8766D","#DE8C00","#B79F00","#7CAE00","#00BA38","#00C08B","#00BFC4","#00B4F0","#619CFF","#C77CFF","#F564E3","#FF64B0"]},"legend":null}}},
{"data":{"values":[{"x":0,"y":2370,"t":"DS"},{"x":0,"y":2110,"t":"8-Y"}]},"mark":{"type":"text","align":"left","baseline":"middle","font":"Lato","fontSize":14,"fontWeight":"bold","color":"black"},"encoding":{"text":{"field":"t"}}},
{"data":{"values":[{"x":0,"y":2075,"t":"POL"}]},"mark":{"type":"text","align":"left","baseline":"middle","font":"Lato","fontSize":9,"fontWeight":"bold","color":"black","dx":22},"encoding":{"text":{"field":"t"}}},
{"data":{"values":[{"x":-2.82,"y":2480,"t":"H"}]},"mark":{"type":"text","align":"center","baseline":"middle","font":"Liberation Sans","fontSize":19,"fontWeight":"bold","color":"black"},"encoding":{"text":{"field":"t"}}}
]}
]}
]
}
